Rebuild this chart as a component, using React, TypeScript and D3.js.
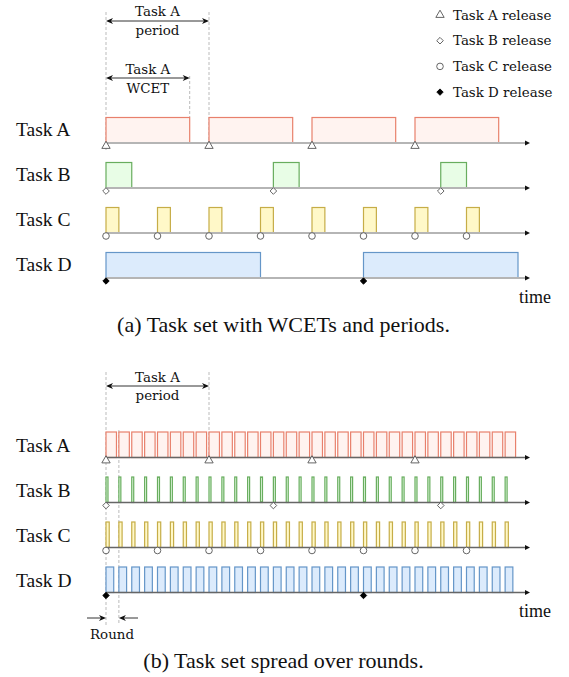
import React from "react";
import * as d3 from "d3";

const tasks = ["Task A", "Task B", "Task C", "Task D"];
const periods = [8, 13, 4, 20];
const wcets = [6.5, 2, 1, 12];
const horizon = 32;
const markerTypes = ["triangle", "diamond", "circle", "filledDiamond"];
const legendLabels = ["Task A release", "Task B release", "Task C release", "Task D release"];
const strokeColors = ["#e8806c", "#68ad5e", "#c6ad47", "#6596c8"];
const fillColors = ["#fff3f0", "#e8fde6", "#fff8c8", "#dcebfc"];

const W = 569, H = 677;
const x = d3.scaleLinear().domain([0, 32]).range([106, 518]);
const axisEndT = 32.93;
const rowsTop = d3.scaleLinear().domain([0, 3]).range([143, 278]);
const rowsBot = d3.scaleLinear().domain([0, 3]).range([457.5, 592.5]);
const boxH = 25.5;

const serif = "'Liberation Serif', 'Times New Roman', serif";
const slab = "'DejaVu Serif', serif";
const slabSize = 13.4;

function releases(p: number) {
  return d3.range(0, horizon, p);
}

function Marker({ type, cx, cy }: { type: string; cx: number; cy: number }) {
  if (type === "triangle") {
    const s = d3.symbol().type(d3.symbolTriangle).size(30)();
    return <path d={s!} transform={`translate(${cx},${cy})`} fill="white" stroke="#555" strokeWidth={0.9} />;
  }
  if (type === "diamond" || type === "filledDiamond") {
    const filled = type === "filledDiamond";
    const r = filled ? 3.2 : 3.3;
    return (
      <path d={`M${cx},${cy - r} L${cx + r},${cy} L${cx},${cy + r} L${cx - r},${cy} Z`}
        fill={filled ? "#000" : "white"} stroke={filled ? "#000" : "#555"} strokeWidth={0.9} />
    );
  }
  return <circle cx={cx} cy={cy} r={3.3} fill="white" stroke="#555" strokeWidth={0.9} />;
}

function Axis({ y, color, width }: { y: number; color: string; width: number }) {
  const x0 = x(0), x1 = x(axisEndT);
  return (
    <g>
      <line x1={x0} x2={x1 - 3} y1={y} y2={y} stroke={color} strokeWidth={width} />
      <path d={`M${x1},${y} L${x1 - 5},${y - 2.5} L${x1 - 5},${y + 2.5} Z`} fill="#111" />
    </g>
  );
}

function DoubleArrow({ xa, xb, y }: { xa: number; xb: number; y: number }) {
  return (
    <g>
      <line x1={xa + 2} x2={xb - 2} y1={y} y2={y} stroke="#333" strokeWidth={1} />
      <path d={`M${xa},${y} L${xa + 7},${y - 3} L${xa + 5},${y} L${xa + 7},${y + 3} Z`} fill="#111" />
      <path d={`M${xb},${y} L${xb - 7},${y - 3} L${xb - 5},${y} L${xb - 7},${y + 3} Z`} fill="#111" />
    </g>
  );
}

function Dashed({ xv, y1, y2 }: { xv: number; y1: number; y2: number }) {
  return <line x1={xv} x2={xv} y1={y1} y2={y2} stroke="#bbb" strokeWidth={1} strokeDasharray="3,2" />;
}

export default function App() {
  return (
    <svg width={W} height={H} style={{ position: "absolute", left: 0, top: 0, background: "white" }}>
      {/* ---------- Top panel ---------- */}
      <Dashed xv={x(0)} y1={12} y2={150} />
      <Dashed xv={x(periods[0])} y1={12} y2={142} />
      <Dashed xv={x(wcets[0])} y1={76} y2={117} />
      <DoubleArrow xa={x(0)} xb={x(periods[0])} y={21} />
      <text x={(x(0) + x(periods[0])) / 2} y={16} textAnchor="middle" fontFamily={slab} fontSize={slabSize} fill="#111">Task A</text>
      <text x={(x(0) + x(periods[0])) / 2} y={35} textAnchor="middle" fontFamily={slab} fontSize={slabSize} fill="#111">period</text>
      <DoubleArrow xa={x(0)} xb={x(wcets[0])} y={78} />
      <text x={(x(0) + x(wcets[0])) / 2} y={74} textAnchor="middle" fontFamily={slab} fontSize={slabSize} fill="#111">Task A</text>
      <text x={(x(0) + x(wcets[0])) / 2} y={93} textAnchor="middle" fontFamily={slab} fontSize={slabSize} fill="#111">WCET</text>

      {legendLabels.map((l, i) => (
        <g key={l}>
          <Marker type={markerTypes[i]} cx={440} cy={15 + i * 25.7} />
          <text x={453} y={19.5 + i * 25.7} fontFamily={slab} fontSize={slabSize} fill="#111">{l}</text>
        </g>
      ))}

      {tasks.map((t, i) => {
        const y = rowsTop(i);
        return (
          <g key={t}>
            <text x={16} y={y - 7} fontFamily={serif} fontSize={19.5} fill="#111">{t}</text>
            {releases(periods[i]).map((r) => (
              <rect key={r} x={x(r)} y={y - boxH} width={x(r + wcets[i]) - x(r)} height={boxH}
                fill={fillColors[i]} stroke={strokeColors[i]} strokeWidth={1.2} />
            ))}
            <Axis y={y} color="#b5b5b5" width={2} />
            {releases(periods[i]).map((r) => (
              <Marker key={"m" + r} type={markerTypes[i]} cx={x(r)} cy={y + 3} />
            ))}
          </g>
        );
      })}
      <text x={519} y={303} fontFamily={serif} fontSize={18} fill="#111">time</text>
      <text x={W / 2 - 1} y={332} textAnchor="middle" fontFamily={serif} fontSize={22} fill="#111">(a) Task set with WCETs and periods.</text>

      {/* ---------- Bottom panel ---------- */}
      <Dashed xv={x(0)} y1={372} y2={625} />
      <Dashed xv={x(1)} y1={430} y2={625} />
      <Dashed xv={x(periods[0])} y1={372} y2={457} />
      <DoubleArrow xa={x(0)} xb={x(periods[0])} y={386} />
      <text x={(x(0) + x(periods[0])) / 2} y={382} textAnchor="middle" fontFamily={slab} fontSize={slabSize} fill="#111">Task A</text>
      <text x={(x(0) + x(periods[0])) / 2} y={400} textAnchor="middle" fontFamily={slab} fontSize={slabSize} fill="#111">period</text>

      {tasks.map((t, i) => {
        const y = rowsBot(i);
        const frac = wcets[i] / periods[i];
        return (
          <g key={"b" + t}>
            <text x={16} y={y - 6} fontFamily={serif} fontSize={19.5} fill="#111">{t}</text>
            {d3.range(0, horizon).map((r) => (
              <rect key={r} x={x(r)} y={y - boxH} width={x(r + frac) - x(r)} height={boxH}
                fill={fillColors[i]} stroke={strokeColors[i]} strokeWidth={1.2} />
            ))}
            <Axis y={y} color="#666" width={1.3} />
            {releases(periods[i]).map((r) => (
              <Marker key={"m" + r} type={markerTypes[i]} cx={x(r)} cy={y + 3} />
            ))}
          </g>
        );
      })}
      <g>
        <line x1={87} x2={104} y1={618} y2={618} stroke="#333" strokeWidth={1} />
        <path d={`M${x(0)},618 L${x(0) - 7},615 L${x(0) - 5},618 L${x(0) - 7},621 Z`} fill="#111" />
        <line x1={x(1) + 2} x2={138} y1={618} y2={618} stroke="#333" strokeWidth={1} />
        <path d={`M${x(1)},618 L${x(1) + 7},615 L${x(1) + 5},618 L${x(1) + 7},621 Z`} fill="#111" />
        <text x={112} y={639} textAnchor="middle" fontFamily={slab} fontSize={slabSize} fill="#111">Round</text>
      </g>
      <text x={519} y={617} fontFamily={serif} fontSize={18} fill="#111">time</text>
      <text x={W / 2 - 1} y={668} textAnchor="middle" fontFamily={serif} fontSize={22} fill="#111">(b) Task set spread over rounds.</text>
    </svg>
  );
}
